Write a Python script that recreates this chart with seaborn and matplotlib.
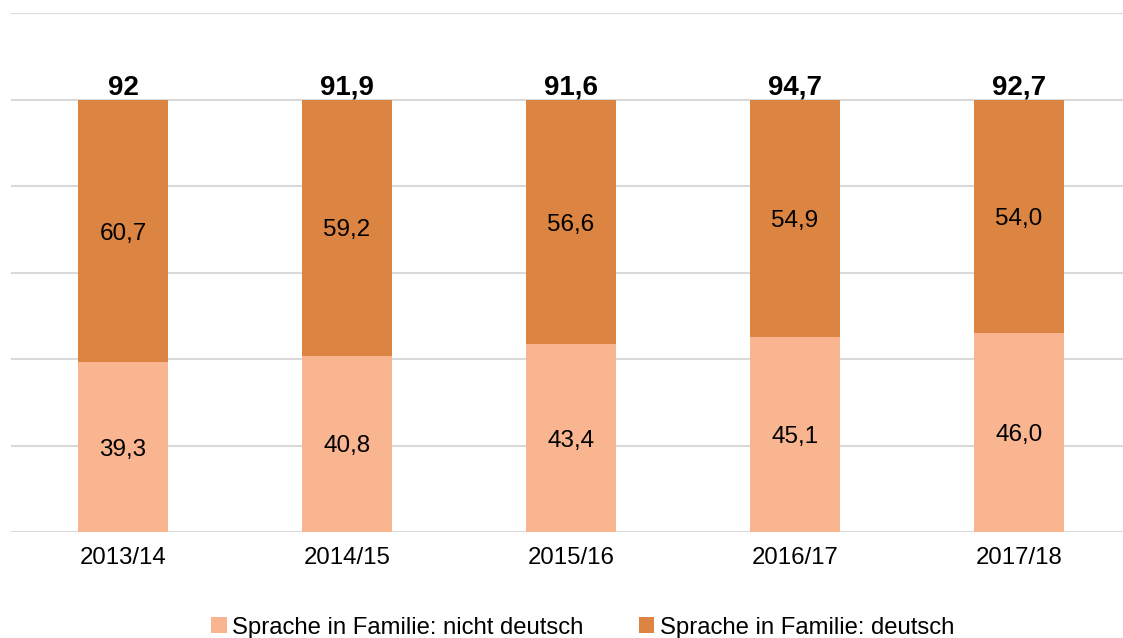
import matplotlib
matplotlib.use("Agg")
import matplotlib.pyplot as plt
import seaborn as sns
import pandas as pd
from matplotlib.patches import Patch

years = ["2013/14", "2014/15", "2015/16", "2016/17", "2017/18"]
nicht_deutsch = [39.3, 40.8, 43.4, 45.1, 46.0]
deutsch = [60.7, 59.2, 56.6, 54.9, 54.0]
totals = [92, 91.9, 91.6, 94.7, 92.7]
series_labels = ["Sprache in Familie: nicht deutsch", "Sprache in Familie: deutsch"]

c_light = "#F8B590"
c_dark = "#DC8441"

sns.set_theme(style="white")
plt.rcParams["font.family"] = ["Liberation Sans", "DejaVu Sans"]
plt.rcParams["text.color"] = "black"

df = pd.DataFrame({"Jahr": years, "nicht": nicht_deutsch, "deutsch": deutsch})
df["summe"] = df["nicht"] + df["deutsch"]

fig = plt.figure(figsize=(11.23, 6.38), dpi=100)
ax = fig.add_axes([0.0098, 0.166, 0.9973, 0.813])

# stacked bars: full stack in dark, lower segment overlaid in light
sns.barplot(data=df, x="Jahr", y="summe", color=c_dark, width=0.4,
            saturation=1, ax=ax, zorder=3, edgecolor="none", linewidth=0)
sns.barplot(data=df, x="Jahr", y="nicht", color=c_light, width=0.4,
            saturation=1, ax=ax, zorder=3, edgecolor="none", linewidth=0)

ax.set_ylim(0, 120)
ax.set_xlim(-0.5, len(years) - 0.5)
ax.set_yticks(range(0, 121, 20))
ax.set_yticklabels([])
ax.yaxis.grid(True, color="#D9D9D9", linewidth=1.5, zorder=0)
ax.xaxis.grid(False)
for s in ax.spines.values():
    s.set_visible(False)
ax.set_xlabel("")
ax.set_ylabel("")
ax.tick_params(axis="x", length=0, labelsize=17.3, pad=11, colors="black")
ax.tick_params(axis="y", length=0)


def fmt(v):
    return f"{v:.1f}".replace(".", ",")


for i in range(len(years)):
    n, d, t = nicht_deutsch[i], deutsch[i], totals[i]
    ax.text(i, n / 2, fmt(n), ha="center", va="center_baseline",
            fontsize=17.5, color="black", zorder=4)
    ax.text(i, n + d / 2, fmt(d), ha="center", va="center_baseline",
            fontsize=17.5, color="black", zorder=4)
    tl = str(int(t)) if float(t).is_integer() else fmt(t)
    ax.text(i, n + d + 1.2, tl, ha="center", va="baseline", fontsize=20,
            fontweight="bold", color="black", zorder=4)

handles = [Patch(facecolor=c_light, edgecolor="none"),
           Patch(facecolor=c_dark, edgecolor="none")]
leg = fig.legend(handles, series_labels, loc="lower center",
                 bbox_to_anchor=(0.519, -0.035), ncol=2, frameon=False,
                 fontsize=17.2, handlelength=0.65, handleheight=0.65,
                 handletextpad=0.25, columnspacing=2.3)
for t in leg.get_texts():
    t.set_color("black")

fig.savefig("out.png", dpi=100)
